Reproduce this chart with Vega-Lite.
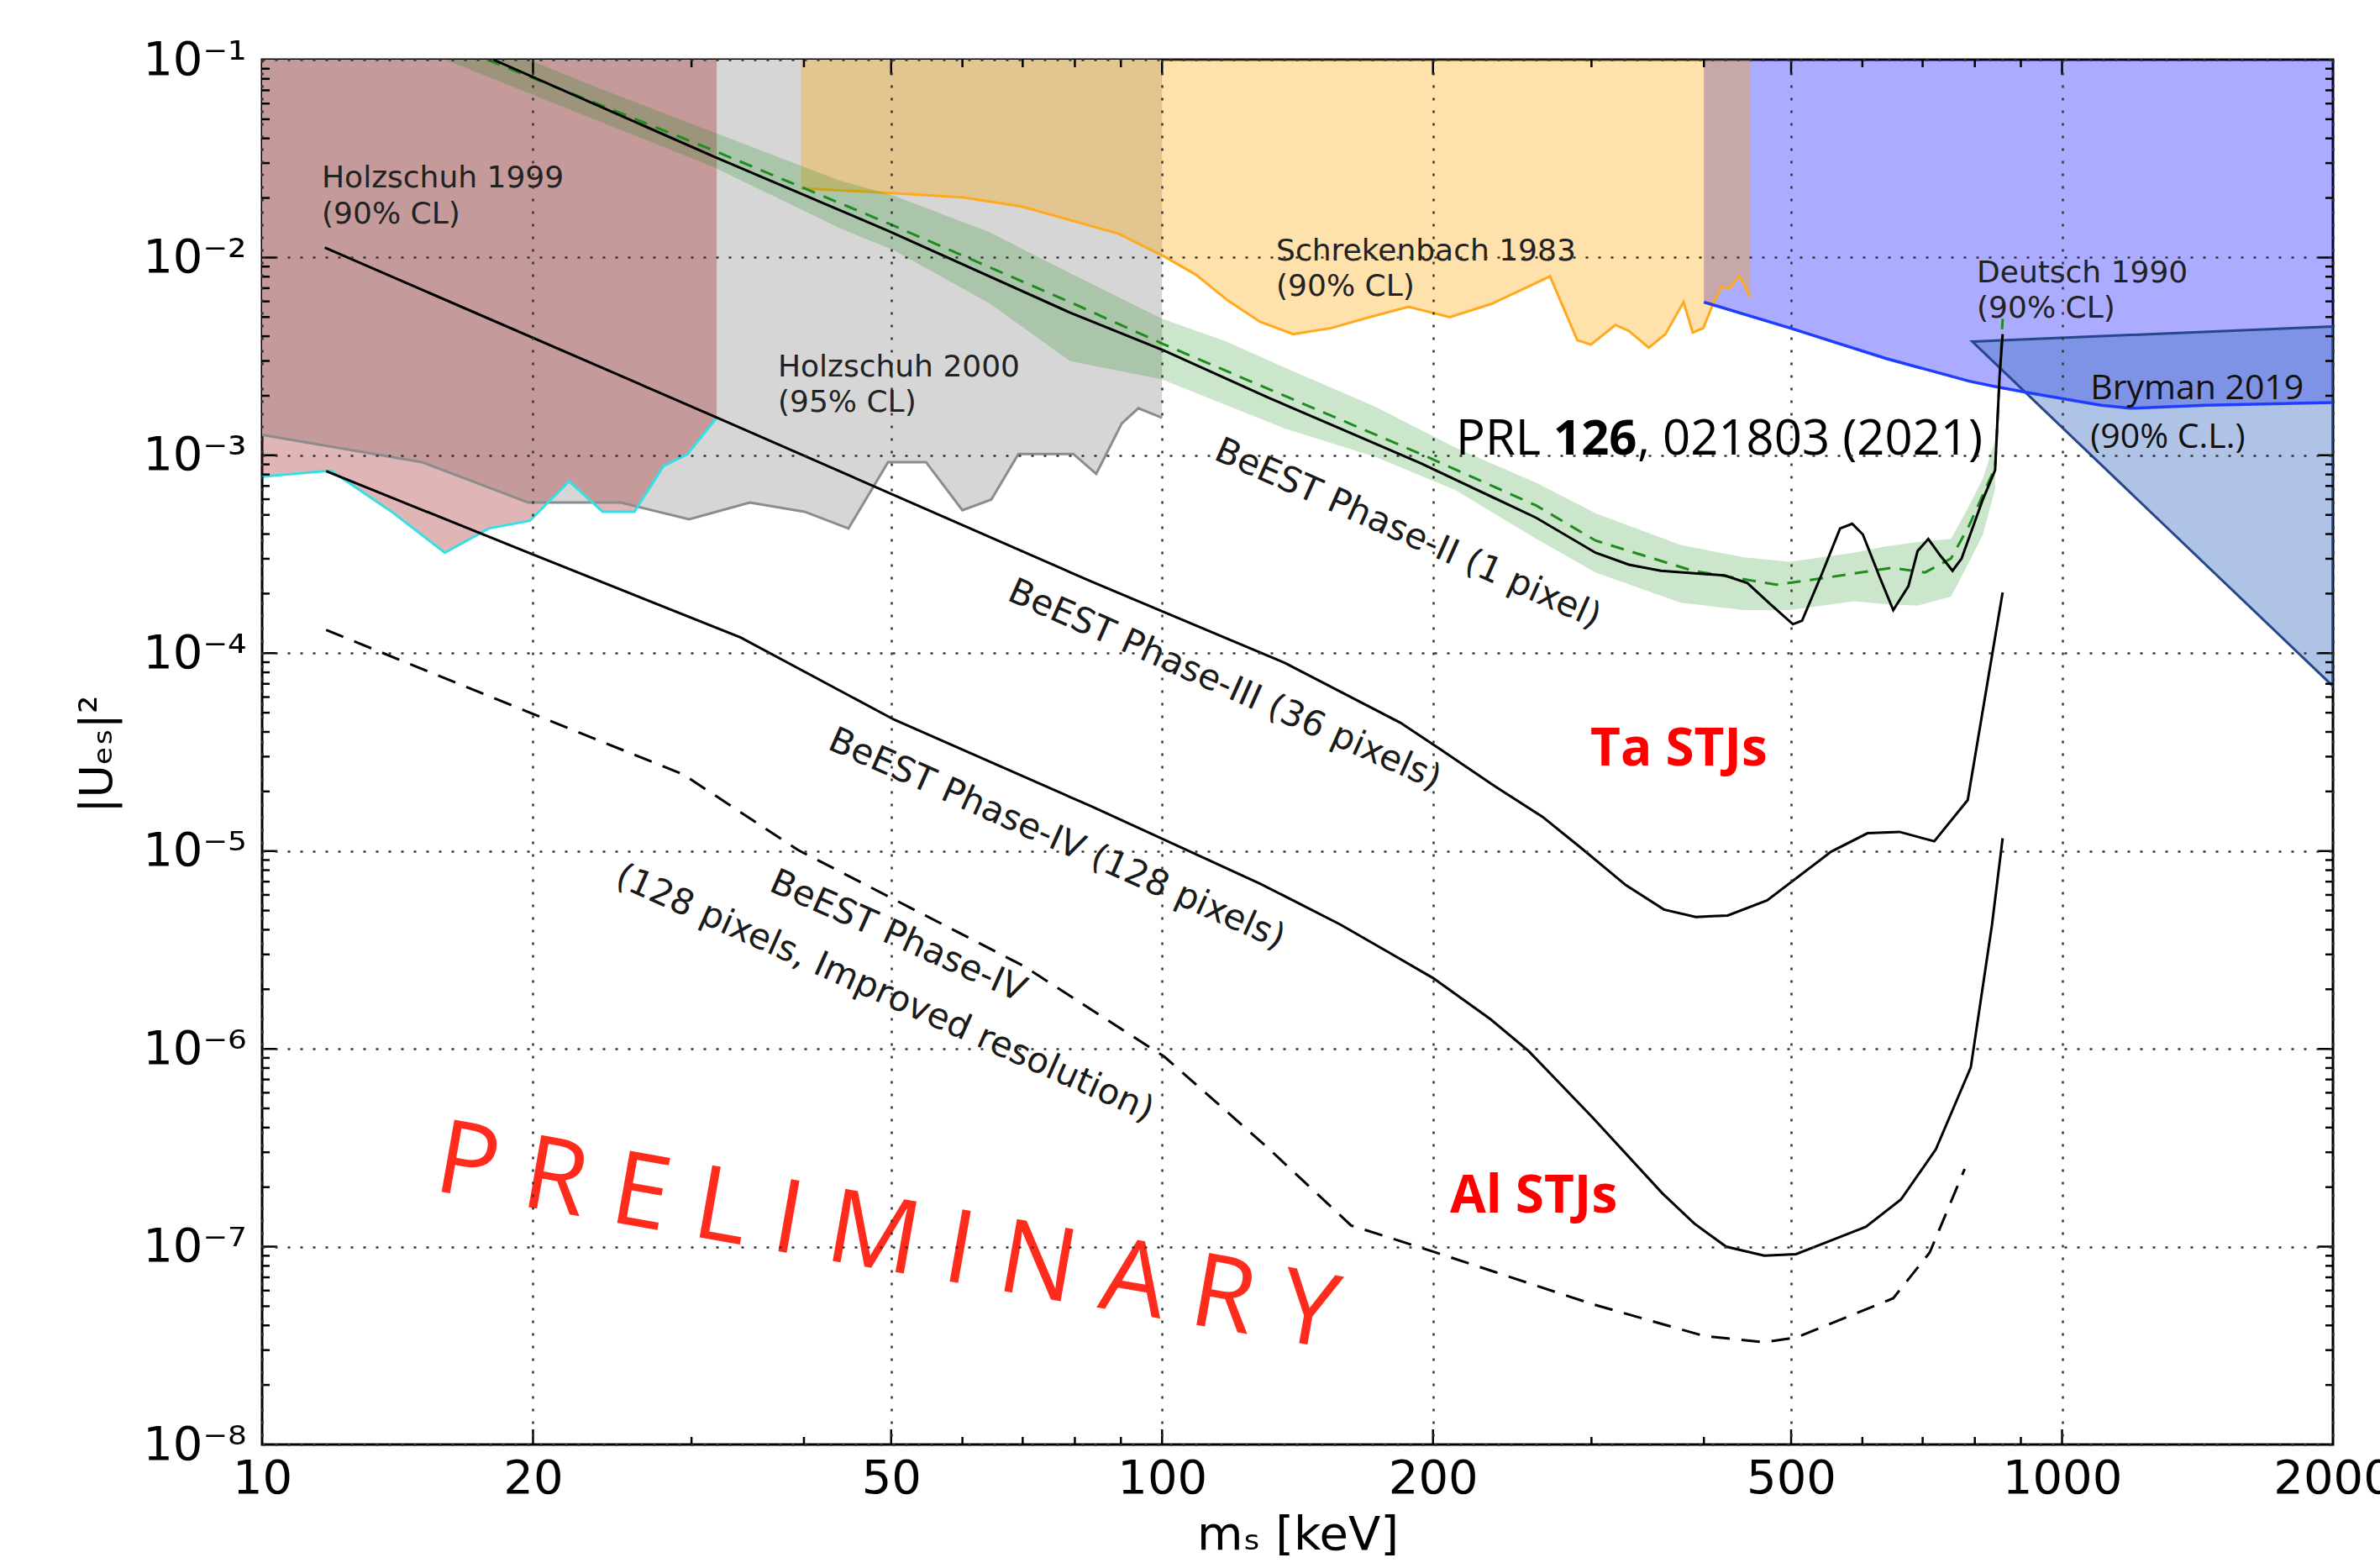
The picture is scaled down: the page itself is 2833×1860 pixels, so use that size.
{
  "$schema": "https://vega.github.io/schema/vega-lite/v6.json",
  "width": 2465,
  "height": 1648,
  "autosize": {"type": "none"},
  "padding": {"left": 312, "top": 71, "right": 56, "bottom": 141},
  "background": "white",
  "config": {"view": {"stroke": "black", "strokeWidth": 3}, "font": "DejaVu Sans"},
  "datasets": {
    "holz2000": [{"x":10,"y":1.27e-3},{"x":15.05,"y":9.24e-4},{"x":19.76,"y":5.77e-4},{"x":25.04,"y":5.77e-4},{"x":29.82,"y":4.75e-4},{"x":34.83,"y":5.77e-4},{"x":40.06,"y":5.19e-4},{"x":44.83,"y":4.27e-4},{"x":49.6,"y":9.24e-4},{"x":54.66,"y":9.24e-4},{"x":60.0,"y":5.28e-4},{"x":64.6,"y":5.98e-4},{"x":69.25,"y":1.016e-3},{"x":79.68,"y":1.016e-3},{"x":84.5,"y":8.07e-4},{"x":90.2,"y":1.45e-3},{"x":94.1,"y":1.73e-3},{"x":100,"y":1.55e-3}],
    "holz1999": [{"x":10,"y":7.8e-4},{"x":11.92,"y":8.37e-4},{"x":13.93,"y":5.19e-4},{"x":15.96,"y":3.22e-4},{"x":17.86,"y":4.27e-4},{"x":19.84,"y":4.67e-4},{"x":21.94,"y":7.39e-4},{"x":23.9,"y":5.19e-4},{"x":25.93,"y":5.19e-4},{"x":27.92,"y":8.82e-4},{"x":29.71,"y":1.016e-3},{"x":32.0,"y":1.55e-3}],
    "schrek": [{"x":39.7,"y":2.24e-2},{"x":49.6,"y":2.12e-2},{"x":60.23,"y":2.01e-2},{"x":69.8,"y":1.81e-2},{"x":89.5,"y":1.32e-2},{"x":100.6,"y":1.01e-2},{"x":109.1,"y":8.17e-3},{"x":118.4,"y":6.05e-3},{"x":128.5,"y":4.73e-3},{"x":139.9,"y":4.1e-3},{"x":154.2,"y":4.4e-3},{"x":169.9,"y":4.99e-3},{"x":187.9,"y":5.64e-3},{"x":208.8,"y":4.99e-3},{"x":232.7,"y":5.85e-3},{"x":248.6,"y":6.73e-3},{"x":269.8,"y":8.03e-3},{"x":289.3,"y":3.82e-3},{"x":299.6,"y":3.63e-3},{"x":318.9,"y":4.56e-3},{"x":330.2,"y":4.25e-3},{"x":347.4,"y":3.5e-3},{"x":362.5,"y":4.1e-3},{"x":379.7,"y":5.95e-3},{"x":388.7,"y":4.18e-3},{"x":399.4,"y":4.4e-3},{"x":408.9,"y":5.74e-3},{"x":418.5,"y":7.1e-3},{"x":426.7,"y":6.97e-3},{"x":438.5,"y":8.03e-3},{"x":450.6,"y":6.27e-3}],
    "deutsch": [{"x":400,"y":5.95e-3},{"x":498.6,"y":4.4e-3},{"x":636.8,"y":3.09e-3},{"x":788.7,"y":2.37e-3},{"x":849.2,"y":2.21e-3},{"x":924.8,"y":2.06e-3},{"x":1105,"y":1.79e-3},{"x":1190,"y":1.73e-3},{"x":1445,"y":1.79e-3},{"x":2000,"y":1.85e-3}],
    "bryman": [{"x":794.7,"y":3.76e-3,"y2":3.76e-3},{"x":2000,"y":4.48e-3,"y2":6.81e-5}],
    "band": [{"x":15.77,"y":0.151,"y2":0.1023},{"x":24.18,"y":6.92e-2,"y2":4.70e-2},{"x":31.73,"y":4.30e-2,"y2":2.87e-2},{"x":43.8,"y":2.45e-2,"y2":1.41e-2},{"x":50.4,"y":2.05e-2,"y2":1.085e-2},{"x":64.35,"y":1.34e-2,"y2":5.85e-3},{"x":79.06,"y":8.32e-3,"y2":2.99e-3},{"x":100,"y":4.9e-3,"y2":2.42e-3},{"x":117.9,"y":3.76e-3,"y2":1.79e-3},{"x":136.7,"y":2.78e-3,"y2":1.37e-3},{"x":172.6,"y":1.76e-3,"y2":9.81e-4},{"x":212.1,"y":1.09e-3,"y2":6.65e-4},{"x":260.5,"y":7.26e-4,"y2":3.78e-4},{"x":303.1,"y":5.10e-4,"y2":2.56e-4},{"x":376.8,"y":3.52e-4,"y2":1.80e-4},{"x":443.6,"y":3.05e-4,"y2":1.65e-4},{"x":498.6,"y":2.90e-4,"y2":1.65e-4},{"x":586.9,"y":3.22e-4,"y2":1.83e-4},{"x":636.8,"y":3.46e-4,"y2":1.77e-4},{"x":691,"y":3.65e-4,"y2":1.74e-4},{"x":752.7,"y":3.78e-4,"y2":1.93e-4},{"x":788.7,"y":5.57e-4,"y2":2.90e-4},{"x":816.8,"y":7.66e-4,"y2":3.98e-4},{"x":842.6,"y":1.19e-3,"y2":6.77e-4}],
    "p2obs": [{"x":18.07,"y":0.1},{"x":31.73,"y":3.245e-2},{"x":49.6,"y":1.365e-2},{"x":79.06,"y":5.26e-3},{"x":100.6,"y":3.38e-3},{"x":131.5,"y":1.95e-3},{"x":193.9,"y":9.12e-4},{"x":260.5,"y":4.83e-4},{"x":303.1,"y":3.22e-4},{"x":330.2,"y":2.8e-4},{"x":358.3,"y":2.61e-4},{"x":421.8,"y":2.47e-4},{"x":447.1,"y":2.26e-4},{"x":474.0,"y":1.77e-4},{"x":502.3,"y":1.40e-4},{"x":514.2,"y":1.46e-4},{"x":541.0,"y":2.52e-4},{"x":566.7,"y":4.27e-4},{"x":584.6,"y":4.51e-4},{"x":600.7,"y":3.98e-4},{"x":627.0,"y":2.43e-4},{"x":649.3,"y":1.65e-4},{"x":675.0,"y":2.18e-4},{"x":691.0,"y":3.28e-4},{"x":710.2,"y":3.78e-4},{"x":732.6,"y":3.11e-4},{"x":755.7,"y":2.61e-4},{"x":773.4,"y":3.01e-4},{"x":816.8,"y":6.0e-4},{"x":842.6,"y":8.4e-4},{"x":852.3,"y":2.51e-3},{"x":859.0,"y":4.1e-3}],
    "p2exp": [{"x":17.79,"y":0.1},{"x":31.73,"y":3.48e-2},{"x":49.6,"y":1.49e-2},{"x":79.68,"y":5.85e-3},{"x":100.6,"y":3.63e-3},{"x":193.9,"y":1.016e-3},{"x":260.5,"y":5.57e-4},{"x":303.1,"y":3.71e-4},{"x":388.7,"y":2.61e-4},{"x":481.4,"y":2.22e-4},{"x":541.0,"y":2.39e-4},{"x":646.8,"y":2.7e-4},{"x":704.6,"y":2.56e-4},{"x":752.7,"y":3.01e-4},{"x":788.7,"y":4.43e-4},{"x":842.6,"y":8.67e-4},{"x":859.0,"y":4.9e-3}],
    "p3": [{"x":11.74,"y":1.122e-2},{"x":31.73,"y":1.58e-3},{"x":83.5,"y":2.30e-4},{"x":136.9,"y":8.93e-5},{"x":184,"y":4.45e-5},{"x":203.2,"y":3.30e-5},{"x":231.6,"y":2.2e-5},{"x":264.6,"y":1.49e-5},{"x":291.5,"y":1.045e-5},{"x":327.6,"y":6.72e-6},{"x":361.1,"y":5.06e-6},{"x":391.7,"y":4.64e-6},{"x":425.1,"y":4.72e-6},{"x":470.3,"y":5.63e-6},{"x":553.7,"y":9.91e-6},{"x":607.8,"y":1.23e-5},{"x":659.5,"y":1.25e-5},{"x":721.2,"y":1.12e-5},{"x":785.6,"y":1.81e-5},{"x":859,"y":2.03e-4}],
    "p4": [{"x":11.78,"y":8.32e-4},{"x":19.76,"y":3.22e-4},{"x":34.02,"y":1.20e-4},{"x":50.4,"y":4.61e-5},{"x":83.5,"y":1.68e-5},{"x":128.5,"y":6.84e-6},{"x":157.8,"y":4.25e-6},{"x":178.7,"y":3.07e-6},{"x":200,"y":2.28e-6},{"x":231.8,"y":1.41e-6},{"x":255.5,"y":9.74e-7},{"x":300.8,"y":4.5e-7},{"x":359.7,"y":1.86e-7},{"x":390.2,"y":1.31e-7},{"x":423.4,"y":1.0e-7},{"x":466.7,"y":9.01e-8},{"x":506.3,"y":9.17e-8},{"x":549.4,"y":1.06e-7},{"x":605.4,"y":1.26e-7},{"x":662.1,"y":1.73e-7},{"x":724,"y":3.10e-7},{"x":791.8,"y":8.06e-7},{"x":836,"y":4.25e-6},{"x":859,"y":1.16e-5}],
    "p4i": [{"x":11.78,"y":1.31e-4},{"x":19.76,"y":5.04e-5},{"x":29.36,"y":2.44e-5},{"x":39.44,"y":1.009e-5},{"x":70.1,"y":2.63e-6},{"x":100.6,"y":9.12e-7},{"x":130.5,"y":3.22e-7},{"x":162.2,"y":1.28e-7},{"x":199.3,"y":9.5e-8},{"x":300.8,"y":5.12e-8},{"x":401,"y":3.53e-8},{"x":466.7,"y":3.29e-8},{"x":506.3,"y":3.47e-8},{"x":649.3,"y":5.49e-8},{"x":712.8,"y":9.34e-8},{"x":779.5,"y":2.47e-7}],
    "xtick": [
      {"x":20,"y":1e-8,"k":"M"},{"x":30,"y":1e-8,"k":"m"},{"x":40,"y":1e-8,"k":"m"},{"x":50,"y":1e-8,"k":"M"},{"x":60,"y":1e-8,"k":"m"},{"x":70,"y":1e-8,"k":"m"},{"x":80,"y":1e-8,"k":"m"},{"x":90,"y":1e-8,"k":"m"},{"x":100,"y":1e-8,"k":"M"},{"x":200,"y":1e-8,"k":"M"},{"x":300,"y":1e-8,"k":"m"},{"x":400,"y":1e-8,"k":"m"},{"x":500,"y":1e-8,"k":"M"},{"x":600,"y":1e-8,"k":"m"},{"x":700,"y":1e-8,"k":"m"},{"x":800,"y":1e-8,"k":"m"},{"x":900,"y":1e-8,"k":"m"},{"x":1000,"y":1e-8,"k":"M"},
      {"x":20,"y":0.1,"k":"M"},{"x":30,"y":0.1,"k":"m"},{"x":40,"y":0.1,"k":"m"},{"x":50,"y":0.1,"k":"M"},{"x":60,"y":0.1,"k":"m"},{"x":70,"y":0.1,"k":"m"},{"x":80,"y":0.1,"k":"m"},{"x":90,"y":0.1,"k":"m"},{"x":100,"y":0.1,"k":"M"},{"x":200,"y":0.1,"k":"M"},{"x":300,"y":0.1,"k":"m"},{"x":400,"y":0.1,"k":"m"},{"x":500,"y":0.1,"k":"M"},{"x":600,"y":0.1,"k":"m"},{"x":700,"y":0.1,"k":"m"},{"x":800,"y":0.1,"k":"m"},{"x":900,"y":0.1,"k":"m"},{"x":1000,"y":0.1,"k":"M"}
    ],
    "ytick": [
      {"x":10,"y":1e-7,"k":"M"},{"x":10,"y":1e-6,"k":"M"},{"x":10,"y":1e-5,"k":"M"},{"x":10,"y":1e-4,"k":"M"},{"x":10,"y":1e-3,"k":"M"},{"x":10,"y":1e-2,"k":"M"},
      {"x":10,"y":2e-8,"k":"m"},{"x":10,"y":3e-8,"k":"m"},{"x":10,"y":4e-8,"k":"m"},{"x":10,"y":5e-8,"k":"m"},{"x":10,"y":6e-8,"k":"m"},{"x":10,"y":7e-8,"k":"m"},{"x":10,"y":8e-8,"k":"m"},{"x":10,"y":9e-8,"k":"m"},
      {"x":10,"y":2e-7,"k":"m"},{"x":10,"y":3e-7,"k":"m"},{"x":10,"y":4e-7,"k":"m"},{"x":10,"y":5e-7,"k":"m"},{"x":10,"y":6e-7,"k":"m"},{"x":10,"y":7e-7,"k":"m"},{"x":10,"y":8e-7,"k":"m"},{"x":10,"y":9e-7,"k":"m"},
      {"x":10,"y":2e-6,"k":"m"},{"x":10,"y":3e-6,"k":"m"},{"x":10,"y":4e-6,"k":"m"},{"x":10,"y":5e-6,"k":"m"},{"x":10,"y":6e-6,"k":"m"},{"x":10,"y":7e-6,"k":"m"},{"x":10,"y":8e-6,"k":"m"},{"x":10,"y":9e-6,"k":"m"},
      {"x":10,"y":2e-5,"k":"m"},{"x":10,"y":3e-5,"k":"m"},{"x":10,"y":4e-5,"k":"m"},{"x":10,"y":5e-5,"k":"m"},{"x":10,"y":6e-5,"k":"m"},{"x":10,"y":7e-5,"k":"m"},{"x":10,"y":8e-5,"k":"m"},{"x":10,"y":9e-5,"k":"m"},
      {"x":10,"y":2e-4,"k":"m"},{"x":10,"y":3e-4,"k":"m"},{"x":10,"y":4e-4,"k":"m"},{"x":10,"y":5e-4,"k":"m"},{"x":10,"y":6e-4,"k":"m"},{"x":10,"y":7e-4,"k":"m"},{"x":10,"y":8e-4,"k":"m"},{"x":10,"y":9e-4,"k":"m"},
      {"x":10,"y":2e-3,"k":"m"},{"x":10,"y":3e-3,"k":"m"},{"x":10,"y":4e-3,"k":"m"},{"x":10,"y":5e-3,"k":"m"},{"x":10,"y":6e-3,"k":"m"},{"x":10,"y":7e-3,"k":"m"},{"x":10,"y":8e-3,"k":"m"},{"x":10,"y":9e-3,"k":"m"},
      {"x":10,"y":2e-2,"k":"m"},{"x":10,"y":3e-2,"k":"m"},{"x":10,"y":4e-2,"k":"m"},{"x":10,"y":5e-2,"k":"m"},{"x":10,"y":6e-2,"k":"m"},{"x":10,"y":7e-2,"k":"m"},{"x":10,"y":8e-2,"k":"m"},{"x":10,"y":9e-2,"k":"m"},
      {"x":2000,"y":1e-7,"k":"M"},{"x":2000,"y":1e-6,"k":"M"},{"x":2000,"y":1e-5,"k":"M"},{"x":2000,"y":1e-4,"k":"M"},{"x":2000,"y":1e-3,"k":"M"},{"x":2000,"y":1e-2,"k":"M"},
      {"x":2000,"y":2e-8,"k":"m"},{"x":2000,"y":3e-8,"k":"m"},{"x":2000,"y":4e-8,"k":"m"},{"x":2000,"y":5e-8,"k":"m"},{"x":2000,"y":6e-8,"k":"m"},{"x":2000,"y":7e-8,"k":"m"},{"x":2000,"y":8e-8,"k":"m"},{"x":2000,"y":9e-8,"k":"m"},
      {"x":2000,"y":2e-7,"k":"m"},{"x":2000,"y":3e-7,"k":"m"},{"x":2000,"y":4e-7,"k":"m"},{"x":2000,"y":5e-7,"k":"m"},{"x":2000,"y":6e-7,"k":"m"},{"x":2000,"y":7e-7,"k":"m"},{"x":2000,"y":8e-7,"k":"m"},{"x":2000,"y":9e-7,"k":"m"},
      {"x":2000,"y":2e-6,"k":"m"},{"x":2000,"y":3e-6,"k":"m"},{"x":2000,"y":4e-6,"k":"m"},{"x":2000,"y":5e-6,"k":"m"},{"x":2000,"y":6e-6,"k":"m"},{"x":2000,"y":7e-6,"k":"m"},{"x":2000,"y":8e-6,"k":"m"},{"x":2000,"y":9e-6,"k":"m"},
      {"x":2000,"y":2e-5,"k":"m"},{"x":2000,"y":3e-5,"k":"m"},{"x":2000,"y":4e-5,"k":"m"},{"x":2000,"y":5e-5,"k":"m"},{"x":2000,"y":6e-5,"k":"m"},{"x":2000,"y":7e-5,"k":"m"},{"x":2000,"y":8e-5,"k":"m"},{"x":2000,"y":9e-5,"k":"m"},
      {"x":2000,"y":2e-4,"k":"m"},{"x":2000,"y":3e-4,"k":"m"},{"x":2000,"y":4e-4,"k":"m"},{"x":2000,"y":5e-4,"k":"m"},{"x":2000,"y":6e-4,"k":"m"},{"x":2000,"y":7e-4,"k":"m"},{"x":2000,"y":8e-4,"k":"m"},{"x":2000,"y":9e-4,"k":"m"},
      {"x":2000,"y":2e-3,"k":"m"},{"x":2000,"y":3e-3,"k":"m"},{"x":2000,"y":4e-3,"k":"m"},{"x":2000,"y":5e-3,"k":"m"},{"x":2000,"y":6e-3,"k":"m"},{"x":2000,"y":7e-3,"k":"m"},{"x":2000,"y":8e-3,"k":"m"},{"x":2000,"y":9e-3,"k":"m"},
      {"x":2000,"y":2e-2,"k":"m"},{"x":2000,"y":3e-2,"k":"m"},{"x":2000,"y":4e-2,"k":"m"},{"x":2000,"y":5e-2,"k":"m"},{"x":2000,"y":6e-2,"k":"m"},{"x":2000,"y":7e-2,"k":"m"},{"x":2000,"y":8e-2,"k":"m"},{"x":2000,"y":9e-2,"k":"m"}
    ],
    "labels": [
      {"k":"exp","x":11.65,"y":2.261e-2,"t":"Holzschuh 1999"},
      {"k":"exp","x":11.65,"y":1.484e-2,"t":"(90% CL)"},
      {"k":"exp","x":37.42,"y":2.5e-3,"t":"Holzschuh 2000"},
      {"k":"exp","x":37.42,"y":1.66e-3,"t":"(95% CL)"},
      {"k":"exp","x":133.9,"y":9.654e-3,"t":"Schrekenbach 1983"},
      {"k":"exp","x":133.9,"y":6.4e-3,"t":"(90% CL)"},
      {"k":"exp","x":804,"y":7.49e-3,"t":"Deutsch 1990"},
      {"k":"exp","x":804,"y":4.96e-3,"t":"(90% CL)"},
      {"k":"bry","x":1075,"y":1.92e-3,"t":"Bryman 2019"},
      {"k":"bry","x":1075,"y":1.09e-3,"t":"(90% C.L.)"},
      {"k":"prl","x":212.1,"y":1.008e-3,"t":"PRL"},
      {"k":"prlb","x":272.1,"y":1.008e-3,"t":"126"},
      {"k":"prl","x":337.4,"y":1.008e-3,"t":", 021803 (2021)"},
      {"k":"stj","x":299.1,"y":2.7e-5,"t":"Ta STJs"},
      {"k":"stj","x":208.9,"y":1.48e-7,"t":"Al STJs"},
      {"k":"pre","x":15.44,"y":1.93e-7,"t":"P R E L I M I N A R Y"},
      {"k":"cur","x":187.6,"y":4.02e-4,"t":"BeEST Phase-II (1 pixel)"},
      {"k":"cur","x":117.4,"y":6.91e-5,"t":"BeEST Phase-III (36 pixels)"},
      {"k":"cur","x":76.4,"y":1.15e-5,"t":"BeEST Phase-IV (128 pixels)"},
      {"k":"cur","x":50.9,"y":3.71e-6,"t":"BeEST Phase-IV"},
      {"k":"cur","x":49.2,"y":1.91e-6,"t":"(128 pixels, Improved resolution)"}
    ]
  },
  "encoding": {
    "x": {
      "field": "x", "type": "quantitative",
      "scale": {"type": "log", "domain": [10, 2000], "nice": false},
      "title": "mₛ [keV]",
      "axis": {
        "values": [10, 20, 50, 100, 200, 500, 1000, 2000],
        "labelExpr": "format(datum.value, 'd')",
        "grid": true, "gridColor": "#333333", "gridDash": [3, 12], "gridWidth": 2.5,
        "ticks": false, "domain": false,
        "labelFont": "DejaVu Sans", "labelFontSize": 56, "labelColor": "black", "labelPadding": 13,
        "labelFlush": false, "labelOverlap": false, "labelBound": false,
        "titleFont": "DejaVu Sans", "titleFontSize": 56, "titleFontWeight": "normal", "titleColor": "black",
        "titleY": 124, "titleBaseline": "alphabetic", "zindex": 1
      }
    },
    "y": {
      "field": "y", "type": "quantitative",
      "scale": {"type": "log", "domain": [1e-8, 0.1], "nice": false},
      "title": "|Uₑₛ|²",
      "axis": {
        "values": [1e-8, 1e-7, 1e-6, 1e-5, 1e-4, 1e-3, 1e-2, 1e-1],
        "labelExpr": "['10⁻⁸','10⁻⁷','10⁻⁶','10⁻⁵','10⁻⁴','10⁻³','10⁻²','10⁻¹'][round(log(datum.value)/LN10)+8]",
        "grid": true, "gridColor": "#333333", "gridDash": [3, 12], "gridWidth": 2.5,
        "ticks": false, "domain": false,
        "labelFont": "DejaVu Sans", "labelFontSize": 56, "labelColor": "black", "labelPadding": 19,
        "labelFlush": false, "labelOverlap": false, "labelBound": false,
        "titleFont": "DejaVu Sans", "titleFontSize": 54, "titleFontWeight": "normal", "titleColor": "black",
        "titleX": -180, "titleY": 826, "titleAngle": 270, "titleBaseline": "alphabetic", "titleAlign": "center",
        "zindex": 1
      }
    }
  },
  "layer": [
    {"data": {"name": "holz2000"}, "mark": {"type": "area", "color": "#d6d6d6", "opacity": 1, "clip": true}, "encoding": {"y2": {"datum": 0.1}}},
    {"data": {"name": "deutsch"}, "mark": {"type": "area", "color": "#0000ff", "opacity": 0.33, "clip": true}, "encoding": {"y2": {"datum": 0.1}}},
    {"data": {"name": "schrek"}, "mark": {"type": "area", "color": "#ffa500", "opacity": 0.33, "clip": true}, "encoding": {"y2": {"datum": 0.1}}},
    {"data": {"name": "holz1999"}, "mark": {"type": "area", "color": "#a52a2a", "opacity": 0.35, "clip": true}, "encoding": {"y2": {"datum": 0.1}}},
    {"data": {"name": "holz2000"}, "mark": {"type": "line", "color": "#8c8c8c", "strokeWidth": 3, "clip": true}},
    {"data": {"name": "bryman"}, "mark": {"type": "area", "fill": "#4171c3", "fillOpacity": 0.42, "stroke": "#28468a", "strokeWidth": 3, "strokeOpacity": 1, "clip": true}, "encoding": {"y2": {"field": "y2"}}},
    {"data": {"name": "schrek"}, "mark": {"type": "line", "color": "#ffaa1e", "strokeWidth": 3, "clip": true}},
    {"data": {"name": "deutsch"}, "mark": {"type": "line", "color": "#1f3dff", "strokeWidth": 3.5, "clip": true}},
    {"data": {"name": "holz1999"}, "mark": {"type": "line", "color": "#33e0e6", "strokeWidth": 3, "clip": true}},
    {"data": {"name": "band"}, "mark": {"type": "area", "color": "#008000", "opacity": 0.2, "clip": true}, "encoding": {"y2": {"field": "y2"}}},
    {"data": {"name": "p2exp"}, "mark": {"type": "line", "color": "#1e8c1e", "strokeWidth": 3, "strokeDash": [16, 11], "clip": true}},
    {"data": {"name": "p2obs"}, "mark": {"type": "line", "color": "black", "strokeWidth": 3, "clip": true}},
    {"data": {"name": "p3"}, "mark": {"type": "line", "color": "black", "strokeWidth": 3, "clip": true}},
    {"data": {"name": "p4"}, "mark": {"type": "line", "color": "black", "strokeWidth": 3, "clip": true}},
    {"data": {"name": "p4i"}, "mark": {"type": "line", "color": "black", "strokeWidth": 3, "strokeDash": [22, 14], "clip": true}},
    {"data": {"name": "xtick"}, "transform": [{"filter": "datum.k === 'M'"}], "mark": {"type": "tick", "orient": "vertical", "color": "black", "opacity": 1, "thickness": 2.5, "size": 36, "clip": true}},
    {"data": {"name": "xtick"}, "transform": [{"filter": "datum.k === 'm'"}], "mark": {"type": "tick", "orient": "vertical", "color": "black", "opacity": 1, "thickness": 2.5, "size": 18, "clip": true}},
    {"data": {"name": "ytick"}, "transform": [{"filter": "datum.k === 'M'"}], "mark": {"type": "tick", "orient": "horizontal", "color": "black", "opacity": 1, "thickness": 2.5, "size": 36, "clip": true}},
    {"data": {"name": "ytick"}, "transform": [{"filter": "datum.k === 'm'"}], "mark": {"type": "tick", "orient": "horizontal", "color": "black", "opacity": 1, "thickness": 2.5, "size": 18, "clip": true}},
    {"data": {"name": "labels"}, "transform": [{"filter": "datum.k === 'exp'"}], "mark": {"type": "text", "align": "left", "baseline": "alphabetic", "font": "DejaVu Sans", "fontSize": 36, "color": "#222222"}, "encoding": {"text": {"field": "t"}}},
    {"data": {"name": "labels"}, "transform": [{"filter": "datum.k === 'bry'"}], "mark": {"type": "text", "align": "left", "baseline": "alphabetic", "font": "Open Sans", "fontSize": 41, "color": "#111111"}, "encoding": {"text": {"field": "t"}}},
    {"data": {"name": "labels"}, "transform": [{"filter": "datum.k === 'prl'"}], "mark": {"type": "text", "align": "left", "baseline": "alphabetic", "font": "Open Sans", "fontSize": 58, "color": "black"}, "encoding": {"text": {"field": "t"}}},
    {"data": {"name": "labels"}, "transform": [{"filter": "datum.k === 'prlb'"}], "mark": {"type": "text", "align": "left", "baseline": "alphabetic", "font": "Open Sans", "fontSize": 58, "fontWeight": "bold", "color": "black"}, "encoding": {"text": {"field": "t"}}},
    {"data": {"name": "labels"}, "transform": [{"filter": "datum.k === 'stj'"}], "mark": {"type": "text", "align": "left", "baseline": "alphabetic", "font": "Open Sans", "fontSize": 62, "fontWeight": "bold", "color": "#ff0000"}, "encoding": {"text": {"field": "t"}}},
    {"data": {"name": "labels"}, "transform": [{"filter": "datum.k === 'pre'"}], "mark": {"type": "text", "align": "left", "baseline": "alphabetic", "font": "Open Sans", "fontSize": 122, "fontWeight": "normal", "angle": 10, "color": "#ff2b1c"}, "encoding": {"text": {"field": "t"}}},
    {"data": {"name": "labels"}, "transform": [{"filter": "datum.k === 'cur'"}], "mark": {"type": "text", "align": "center", "baseline": "middle", "font": "DejaVu Sans", "fontSize": 42, "angle": 24, "color": "#1a1a1a"}, "encoding": {"text": {"field": "t"}}}
  ]
}
